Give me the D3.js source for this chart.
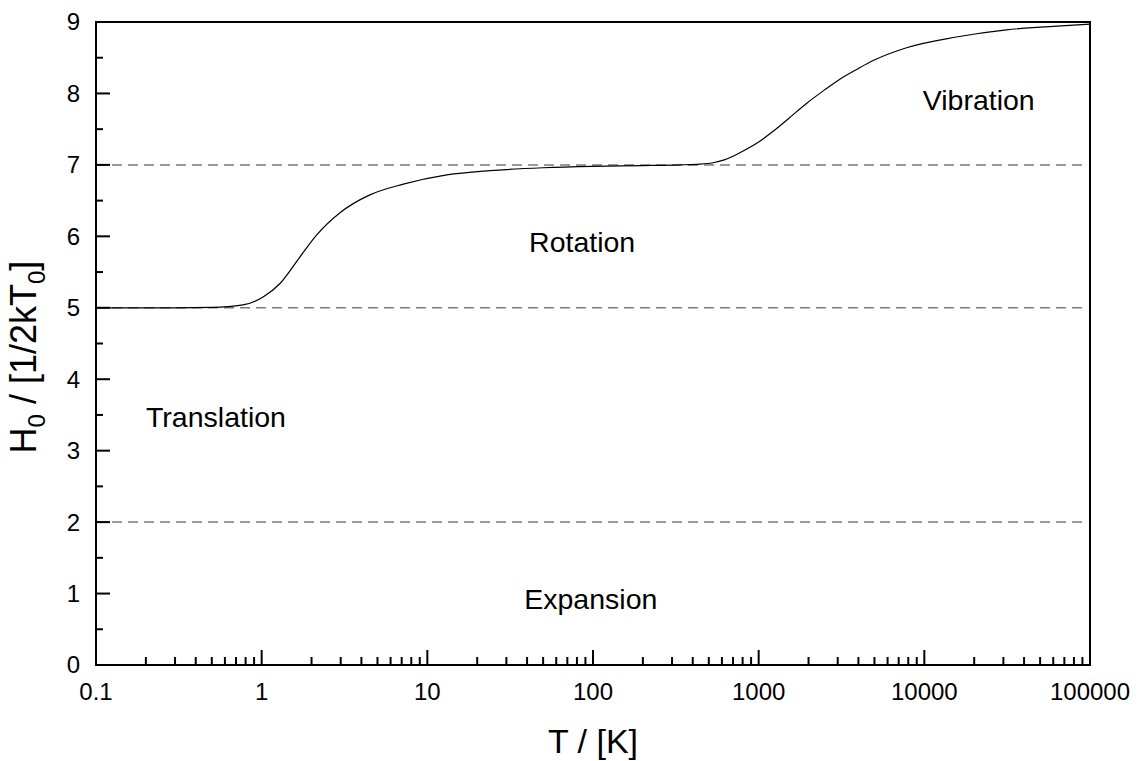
<!DOCTYPE html>
<html>
<head>
<meta charset="utf-8">
<script src="https://cdn.jsdelivr.net/npm/d3@7"></script>
<style>
    body { margin: 0; background: #fff; }
    svg text { font-family: "Liberation Sans", Arial, sans-serif; fill: #000; }
</style>
</head>
<body>
<div id="chart"></div>
<script>

// temperature (K) and enthalpy in units of 1/2 kT0
const temps = [0.1, 0.3, 0.5, 0.77, 1.02, 1.29, 1.7, 2.15, 2.97, 4.5, 7.16, 13.1, 23.9, 50, 100, 200, 334, 441, 530, 620, 700, 800, 1000, 1222, 1500, 1944, 2500, 3090, 4000, 4910, 7810, 15600, 31300, 60000, 100000]
const enthalpy = [5.0, 5.0, 5.005, 5.04, 5.15, 5.34, 5.71, 6.02, 6.33, 6.58, 6.73, 6.86, 6.92, 6.96, 6.98, 6.99, 7.0, 7.01, 7.03, 7.07, 7.12, 7.19, 7.32, 7.47, 7.64, 7.86, 8.05, 8.2, 8.35, 8.46, 8.64, 8.79, 8.89, 8.94, 8.97]

// dashed separation levels
const levels = [2, 5, 7]

// region labels
const regionNames = ['Vibration', 'Rotation', 'Translation', 'Expansion']
const regionT = [21300, 86, 0.53, 97]
const regionH = [7.77, 5.78, 3.33, 0.78]

const xTickLabels = ['0.1', '1', '10', '100', '1000', '10000', '100000']
const yTickLabels = [0, 1, 2, 3, 4, 5, 6, 7, 8, 9]

const width = 1140
const height = 761
const margin = { top: 22, right: 50, bottom: 96, left: 96 }
const innerW = width - margin.left - margin.right
const innerH = height - margin.top - margin.bottom

const svg = d3.select('#chart')
    .append('svg')
    .attr('width', width)
    .attr('height', height)

const g = svg.append('g')
    .attr('transform', `translate(${margin.left}, ${margin.top})`)

// scales
const x = d3.scaleLog().domain([0.1, 100000]).range([0, innerW])
const y = d3.scaleLinear().domain([0, 9]).range([innerH, 0])

// dashed lines
g.selectAll('.level')
    .data(levels)
    .enter()
    .append('line')
    .attr('class', 'level')
    .attr('x1', 0)
    .attr('x2', innerW - 7)
    .attr('y1', d => y(d))
    .attr('y2', d => y(d))
    .attr('stroke', '#7a7a7a')
    .attr('stroke-width', 1.5)
    .attr('stroke-dasharray', '10,6')

// curve
let pts = temps.map((t, i) => [t, enthalpy[i]])
let line = d3.line()
    .x(d => x(d[0]))
    .y(d => y(d[1]))
    .curve(d3.curveMonotoneX)

g.append('path')
    .datum(pts)
    .attr('d', line)
    .attr('fill', 'none')
    .attr('stroke', '#000')
    .attr('stroke-width', 1.2)

// region labels
g.selectAll('.region')
    .data(regionNames)
    .enter()
    .append('text')
    .attr('class', 'region')
    .attr('x', (d, i) => x(regionT[i]))
    .attr('y', (d, i) => y(regionH[i]))
    .attr('text-anchor', 'middle')
    .attr('font-size', 28.5)
    .text(d => d)

// x ticks: major per decade, minor 2..9 inward
let minor = []
for (let e = -1; e < 5; e++) {
    for (let m = 2; m <= 9; m++) minor.push(m * Math.pow(10, e))
}
let major = xTickLabels.map(s => +s)

g.selectAll('.xminor')
    .data(minor)
    .enter()
    .append('line')
    .attr('x1', d => x(d)).attr('x2', d => x(d))
    .attr('y1', innerH).attr('y2', innerH - 8)
    .attr('stroke', '#000').attr('stroke-width', 2)

g.selectAll('.xmajor')
    .data(major)
    .enter()
    .append('line')
    .attr('x1', d => x(d)).attr('x2', d => x(d))
    .attr('y1', innerH).attr('y2', innerH - 15)
    .attr('stroke', '#000').attr('stroke-width', 2)

g.selectAll('.xlabel')
    .data(xTickLabels)
    .enter()
    .append('text')
    .attr('x', d => x(+d))
    .attr('y', innerH + 35)
    .attr('text-anchor', 'middle')
    .attr('font-size', 24)
    .text(d => d)

// y ticks
let yMinor = d3.range(0.5, 9, 1)

g.selectAll('.yminor')
    .data(yMinor)
    .enter()
    .append('line')
    .attr('x1', 0).attr('x2', 7)
    .attr('y1', d => y(d)).attr('y2', d => y(d))
    .attr('stroke', '#000').attr('stroke-width', 2)

g.selectAll('.ymajor')
    .data(yTickLabels)
    .enter()
    .append('line')
    .attr('x1', 0).attr('x2', 14)
    .attr('y1', d => y(d)).attr('y2', d => y(d))
    .attr('stroke', '#000').attr('stroke-width', 2)

g.selectAll('.ylabel')
    .data(yTickLabels)
    .enter()
    .append('text')
    .attr('x', -16)
    .attr('y', d => y(d))
    .attr('dy', '0.35em')
    .attr('text-anchor', 'end')
    .attr('font-size', 24)
    .text(d => d)

// frame
g.append('rect')
    .attr('width', innerW)
    .attr('height', innerH)
    .attr('fill', 'none')
    .attr('stroke', '#000')
    .attr('stroke-width', 2)

// axis titles
svg.append('text')
    .attr('x', margin.left + innerW / 2)
    .attr('y', 753)
    .attr('text-anchor', 'middle')
    .attr('font-size', 34)
    .text('T / [K]')

let yt = svg.append('text')
    .attr('transform', `translate(36, 357) rotate(-90)`)
    .attr('text-anchor', 'middle')
    .attr('font-size', 36)

yt.append('tspan').text('H')
yt.append('tspan').attr('font-size', 24).attr('dy', 9).text('0')
yt.append('tspan').attr('dy', -9).text(' / [1/2kT')
yt.append('tspan').attr('font-size', 24).attr('dy', 9).text('0')
yt.append('tspan').attr('dy', -9).text(']')

</script>
</body>
</html>
